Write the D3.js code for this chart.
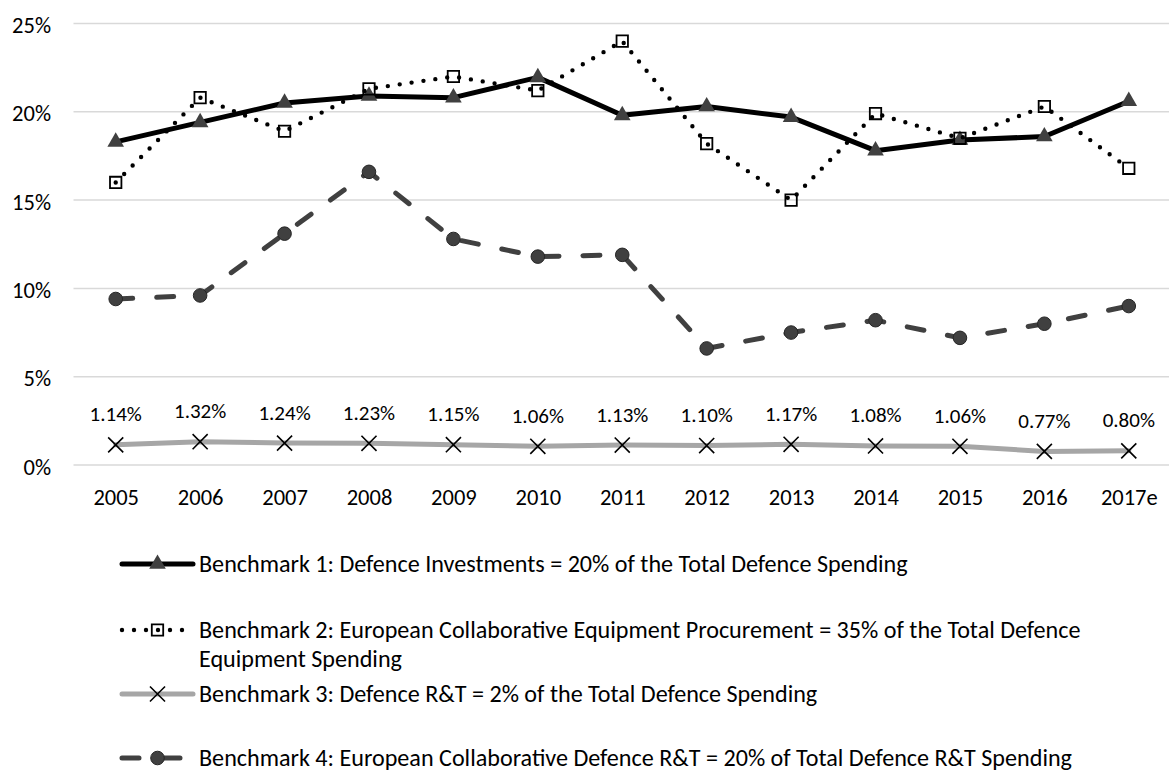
<!DOCTYPE html>
<html>
<head>
<meta charset="utf-8">
<script src="https://cdn.jsdelivr.net/npm/d3@7"></script>
<style>
  html, body { margin: 0; padding: 0; background: #ffffff; }
  svg { display: block; }
  text { font-family: Carlito, Lato, "Open Sans", sans-serif; fill: #000; }
</style>
</head>
<body>
<svg id="chart" width="1169" height="771"></svg>
<script>
// ---------------- data ----------------
const years = ["2005","2006","2007","2008","2009","2010","2011","2012","2013","2014","2015","2016","2017e"];
const benchmark1 = [18.3, 19.4, 20.5, 20.9, 20.8, 21.95, 19.8, 20.3, 19.7, 17.8, 18.4, 18.6, 20.6];
const benchmark2 = [16.0, 20.8, 18.9, 21.3, 22.0, 21.2, 24.0, 18.2, 15.0, 19.9, 18.5, 20.3, 16.8];
const benchmark3 = [1.14, 1.32, 1.24, 1.23, 1.15, 1.06, 1.13, 1.10, 1.17, 1.08, 1.06, 0.77, 0.80];
const benchmark4 = [9.4, 9.6, 13.1, 16.6, 12.8, 11.8, 11.9, 6.6, 7.5, 8.2, 7.2, 8.0, 9.0];
const yTicks = [0, 5, 10, 15, 20, 25];
const legendLabels = [
  ["Benchmark 1: Defence Investments = 20% of the Total Defence Spending"],
  ["Benchmark 2: European Collaborative Equipment Procurement = 35% of the Total Defence", "Equipment Spending"],
  ["Benchmark 3: Defence R&T = 2% of the Total Defence Spending"],
  ["Benchmark 4: European Collaborative Defence R&T = 20% of Total Defence R&T Spending"]
];

// ---------------- layout ----------------
const svg = d3.select("#chart");
const plot = { left: 73.5, right: 1171, top: 23.5, bottom: 465 };

const x = d3.scalePoint().domain(years).range([plot.left, plot.right]).padding(0.5);
const y = d3.scaleLinear().domain([0, 25]).range([plot.bottom, plot.top]);

// gridlines
svg.append("g").selectAll("line").data(yTicks).join("line")
  .attr("x1", plot.left).attr("x2", plot.right)
  .attr("y1", d => y(d)).attr("y2", d => y(d))
  .attr("stroke", "#d9d9d9").attr("stroke-width", 1.5);

// y axis labels
const yAxis = d3.axisLeft(y).tickValues(yTicks).tickFormat(d => d + "%").tickSize(0).tickPadding(0);
const yg = svg.append("g").attr("transform", `translate(51,1)`).call(yAxis);
yg.select(".domain").remove();
yg.selectAll("text").attr("font-size", 22.5).attr("font-family", null).attr("fill", "#000").attr("dy", "0.36em");

// x axis labels
const xAxis = d3.axisBottom(x).tickSize(0).tickPadding(0);
const xg = svg.append("g").attr("transform", `translate(0,${plot.bottom})`).call(xAxis);
xg.select(".domain").remove();
xg.selectAll("text").attr("font-size", 22.5).attr("font-family", null).attr("fill", "#000").attr("dy", "0.36em").attr("y", 32);

// ---------------- series ----------------
const series = [
  { values: benchmark1, color: "#000000", width: 5, dash: null, cap: "round",
    symbol: d3.symbolTriangle, size: 120, fill: "#404040", stroke: "none", sw: 0 },
  { values: benchmark2, color: "#000000", width: 4.4, dash: "0 12", cap: "round",
    symbol: d3.symbolSquare, size: 130, fill: "none", stroke: "#000", sw: 1.8 },
  { values: benchmark3, color: "#a6a6a6", width: 5, dash: null, cap: "round",
    symbol: d3.symbolX, size: 150, fill: "none", stroke: "#000", sw: 1.6 },
  { values: benchmark4, color: "#404040", width: 5, dash: "17 24", cap: "round",
    symbol: d3.symbolCircle, size: 145, fill: "#404040", stroke: "#262626", sw: 1 }
];

const line = d3.line().x((d, i) => x(years[i])).y(d => y(d));

series.forEach(s => {
  const g = svg.append("g");
  g.append("path").datum(s.values)
    .attr("d", line)
    .attr("fill", "none")
    .attr("stroke", s.color)
    .attr("stroke-width", s.width)
    .attr("stroke-linecap", s.cap)
    .attr("stroke-linejoin", "round")
    .attr("stroke-dasharray", s.dash);
  g.selectAll("path.m").data(s.values).join("path")
    .attr("class", "m")
    .attr("transform", (d, i) => `translate(${x(years[i])},${y(d)})`)
    .attr("d", d3.symbol(s.symbol, s.size))
    .attr("fill", s.fill)
    .attr("stroke", s.stroke)
    .attr("stroke-width", s.sw);
});

// data labels for benchmark 3
svg.append("g").selectAll("text").data(benchmark3).join("text")
  .attr("x", (d, i) => x(years[i]))
  .attr("y", d => y(d) - 31)
  .attr("dy", "0.36em")
  .attr("text-anchor", "middle")
  .attr("font-size", 21)
  .text(d => d.toFixed(2) + "%");

// ---------------- legend ----------------
const legendRowsY = [564, 630, 694, 758];
const legendLineHeight = 29;
const lg = svg.append("g");
series.forEach((s, k) => {
  const ly = legendRowsY[k];
  lg.append("line")
    .attr("x1", 122).attr("x2", 193).attr("y1", ly).attr("y2", ly)
    .attr("stroke", s.color).attr("stroke-width", s.width)
    .attr("stroke-linecap", s.cap)
    .attr("stroke-dasharray", s.dash);
  lg.append("path")
    .attr("transform", `translate(157.5,${ly})`)
    .attr("d", d3.symbol(s.symbol, s.size))
    .attr("fill", s.fill).attr("stroke", s.stroke).attr("stroke-width", s.sw);
  const t = lg.append("text").attr("class", "leg").attr("x", 199).attr("y", ly).attr("font-size", 20);
  legendLabels[k].forEach((txt, j) => {
    t.append("tspan").attr("x", 199).attr("y", ly + j * legendLineHeight).attr("dy", "0.34em").text(txt);
  });
});
// fit legend font so first entry spans the reference width
const firstLeg = lg.select("text.leg").node();
const w = firstLeg.getComputedTextLength();
const fs = 20 * 709 / w;
lg.selectAll("text.leg").attr("font-size", fs);
</script>
</body>
</html>
